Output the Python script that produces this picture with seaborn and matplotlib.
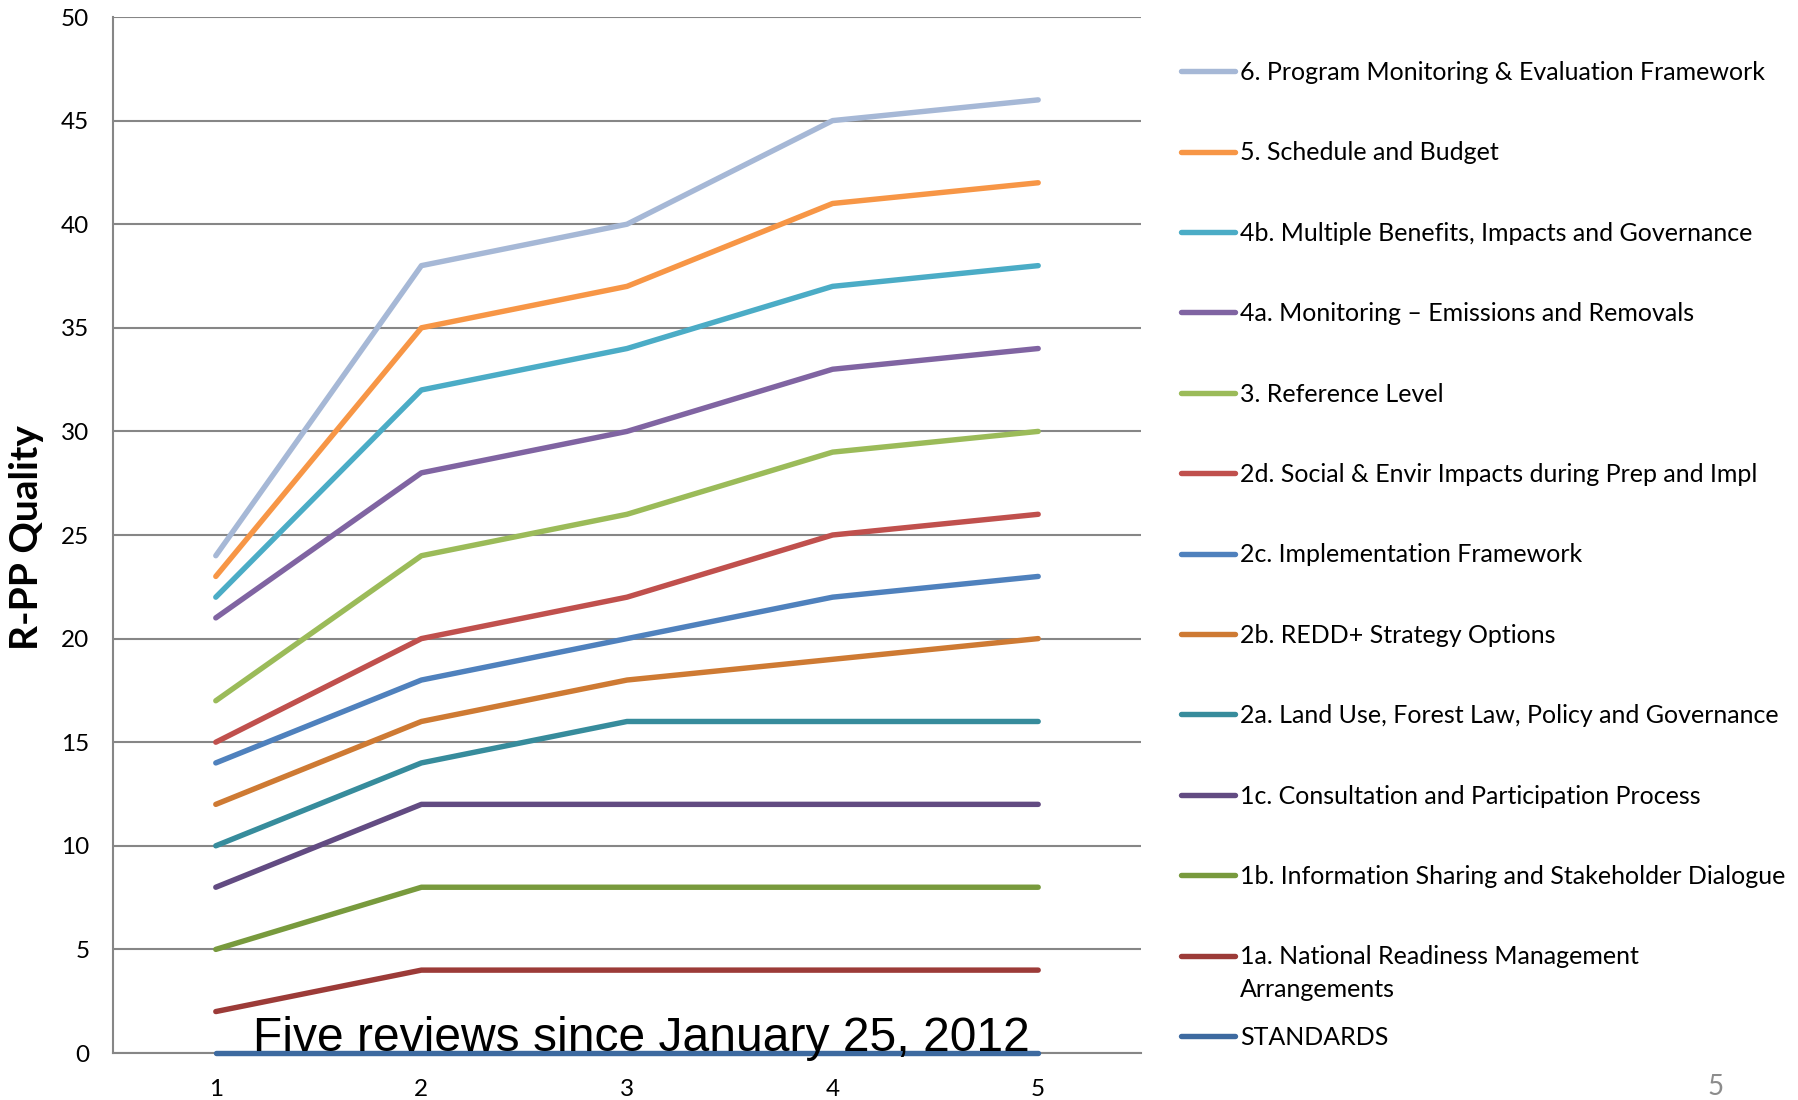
import matplotlib
matplotlib.use("Agg")
import matplotlib.pyplot as plt
from matplotlib.lines import Line2D
import numpy as np
import pandas as pd
import seaborn as sns

# ---------------- data ----------------
reviews = [1, 2, 3, 4, 5]

series_names = [
    "6. Program Monitoring & Evaluation Framework",
    "5. Schedule and Budget",
    "4b. Multiple Benefits, Impacts and Governance",
    "4a. Monitoring \u2013 Emissions and Removals",
    "3. Reference Level",
    "2d. Social & Envir Impacts during Prep and Impl",
    "2c. Implementation Framework",
    "2b. REDD+ Strategy Options",
    "2a. Land Use, Forest Law, Policy and Governance",
    "1c. Consultation and Participation Process",
    "1b. Information Sharing and Stakeholder Dialogue",
    "1a. National Readiness Management\nArrangements",
    "STANDARDS",
]

s6 = [24, 38, 40, 45, 46]
s5 = [23, 35, 37, 41, 42]
s4b = [22, 32, 34, 37, 38]
s4a = [21, 28, 30, 33, 34]
s3 = [17, 24, 26, 29, 30]
s2d = [15, 20, 22, 25, 26]
s2c = [14, 18, 20, 22, 23]
s2b = [12, 16, 18, 19, 20]
s2a = [10, 14, 16, 16, 16]
s1c = [8, 12, 12, 12, 12]
s1b = [5, 8, 8, 8, 8]
s1a = [2, 4, 4, 4, 4]
standards = [0, 0, 0, 0, 0]

series_values = [s6, s5, s4b, s4a, s3, s2d, s2c, s2b, s2a, s1c, s1b, s1a, standards]

colors = ["#A6B8D6", "#F79646", "#4BACC6", "#8064A2", "#9BBB59", "#C0504D",
          "#4F81BD", "#CE7A33", "#378C9C", "#624B82", "#789A3D", "#9C3B38", "#3D6AA0"]

y_ticks = [0, 5, 10, 15, 20, 25, 30, 35, 40, 45, 50]
note_text = "Five reviews since January 25, 2012"
page_number = "5"

# ---------------- frame ----------------
rows = []
for name, vals in zip(series_names, series_values):
    for r, v in zip(reviews, vals):
        rows.append({"review": r, "score": v, "series": name})
df = pd.DataFrame(rows)
palette = dict(zip(series_names, colors))

sns.set_theme(style="white")
plt.rcParams["font.family"] = ["Lato", "DejaVu Sans"]
plt.rcParams["text.color"] = "black"

W, H = 1798, 1100
fig = plt.figure(figsize=(W / 100, H / 100), dpi=100)
ax = fig.add_axes([113 / W, 47 / H, 1028 / W, 1036 / H])

grid_col = "#868686"
ax.set_axisbelow(True)
ax.yaxis.grid(True, color=grid_col, lw=1.5)
ax.xaxis.grid(False)

sns.lineplot(data=df, x="review", y="score", hue="series", hue_order=series_names,
             palette=palette, lw=3.9, legend=False, ax=ax,
             solid_capstyle="round", clip_on=False, zorder=3)

ax.set_xlim(0.5, 5.5)
ax.set_ylim(0, 50)
ax.set_xticks(reviews)
ax.set_xticklabels([str(r) for r in reviews])
ax.set_yticks(y_ticks)
ax.set_yticklabels([str(t) for t in y_ticks])
ax.tick_params(axis="both", length=0, labelsize=17.5, colors="black")
ax.tick_params(axis="y", pad=17)
ax.tick_params(axis="x", pad=19)
ax.set_xlabel("")

for side in ["top", "right"]:
    ax.spines[side].set_visible(False)
for side in ["left", "bottom"]:
    ax.spines[side].set_color(grid_col)
    ax.spines[side].set_linewidth(1.5)

ax.set_ylabel("R-PP Quality", fontsize=28, fontweight="bold", color="black")
ax.yaxis.set_label_coords((44 - 113) / 1028, 0.498)

ax.text((641 - 113) / 1028, 0.0015, note_text, transform=ax.transAxes,
        ha="center", va="baseline", fontsize=34.6, family="Liberation Sans",
        color="black", zorder=5)

fig.text(1716 / W, 1 - 1087 / H, page_number, ha="center", va="center",
         fontsize=20, color="#8C8C8C")

# ---------------- legend ----------------
handles = [Line2D([0], [0], color=c, lw=3.9, solid_capstyle="round") for c in colors]
leg_labels = [n.split("\n")[0] for n in series_names]
fs = 18
fs_px = fs * 100 / 72


def make_legend(ls):
    return fig.legend(handles, leg_labels, loc="upper left",
                      bbox_to_anchor=(1181 / W, 1 - 61 / H), frameon=False,
                      fontsize=fs, handlelength=54 / fs_px, handletextpad=5 / fs_px,
                      borderpad=0, borderaxespad=0, labelspacing=ls,
                      labelcolor="black")


ls = 2.0
leg = make_legend(ls)
fig.canvas.draw()
r = fig.canvas.get_renderer()
texts = leg.get_texts()
y0 = texts[0].get_window_extent(r)
y1 = texts[-1].get_window_extent(r)
measured = ((y0.y0 + y0.y1) / 2 - (y1.y0 + y1.y1) / 2) / (len(texts) - 1)
desired = 80.4
leg.remove()
ls = ls + (desired - measured) / fs_px
leg = make_legend(ls)
fig.canvas.draw()
t1a = leg.get_texts()[11].get_window_extent(r)
fig.text(t1a.x0 / W, ((t1a.y0 + t1a.y1) / 2 - 33) / H, series_names[11].split("\n")[1],
         ha="left", va="center", fontsize=fs, color="black")

fig.savefig("out.png", dpi=100)
